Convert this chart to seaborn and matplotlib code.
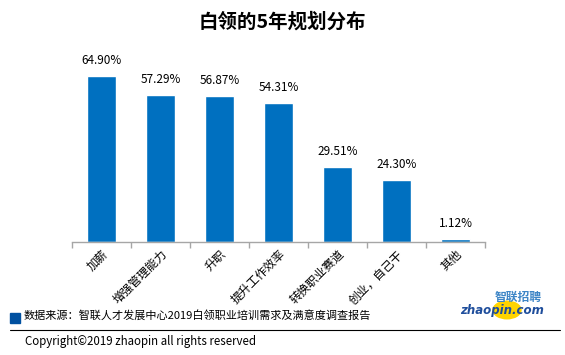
import matplotlib
matplotlib.use("Agg")
import matplotlib.pyplot as plt
from matplotlib.patches import Rectangle, Circle
import seaborn as sns
import pandas as pd

# 数据
categories = ["加薪", "增强管理能力", "升职", "提升工作效率", "转换职业赛道", "创业，自己干", "其他"]
values = [64.90, 57.29, 56.87, 54.31, 29.51, 24.30, 1.12]

title = "白领的5年规划分布"
source_text = "数据来源：智联人才发展中心2019白领职业培训需求及满意度调查报告"
copyright_text = "Copyright©2019 zhaopin all rights reserved"

bar_color = "#0070C0"


def main():
    sns.set_theme(style="white")
    plt.rcParams['font.family'] = ['Noto Sans CJK SC', 'DejaVu Sans']

    df = pd.DataFrame({"cat": categories, "val": values})

    fig = plt.figure(figsize=(5.65, 3.55), dpi=100)
    ax = fig.add_axes([0.1274, 0.318, 0.731, 0.505])
    sns.barplot(data=df, x="cat", y="val", color=bar_color, width=0.5,
                saturation=1, ax=ax)

    ax.set_ylim(0, 70)
    ax.set_xlim(-0.5, len(categories) - 0.5)
    ax.set_xlabel("")
    ax.set_ylabel("")
    ax.set_yticks([])
    for s in ["top", "right", "left"]:
        ax.spines[s].set_visible(False)
    ax.spines["bottom"].set_color("#A6A6A6")
    ax.spines["bottom"].set_linewidth(1)

    # 分类之间的刻度
    ax.set_xticks([i - 0.5 for i in range(len(categories) + 1)], minor=True)
    ax.tick_params(axis="x", which="minor", length=4, color="#A6A6A6",
                   width=1, direction="out", bottom=True)
    ax.tick_params(axis="x", which="major", length=0, pad=4)
    ax.set_xticks(range(len(categories)))
    ax.set_xticklabels(categories, rotation=45, ha="right", va="top",
                       rotation_mode="anchor", fontsize=8.5, color="#000000")

    # 数值标签
    for i, v in enumerate(values):
        ax.text(i, v + 3.5, f"{v:.2f}%", ha="center", va="bottom",
                fontsize=8.5, color="#000000")

    fig.text(0.5, 1 - 22 / 355, title, ha="center", va="center", fontsize=14,
             fontweight="bold", color="#000000")

    # 底部来源
    fig.patches.append(Rectangle((10 / 565, 1 - 323 / 355), 10 / 565, 10 / 355,
                                 transform=fig.transFigure, color="#0050A0"))
    fig.text(24 / 565, 1 - 315 / 355, source_text, ha="left", va="center",
             fontsize=8, color="#000000")
    fig.add_artist(plt.Line2D([10 / 565, 560 / 565], [1 - 330 / 355, 1 - 330 / 355],
                              transform=fig.transFigure, color="#000000", lw=0.8))
    fig.text(25 / 565, 1 - 341 / 355, copyright_text, ha="left", va="center",
             fontsize=8.3, color="#000000")

    # 标志
    fig.patches.append(Circle((507 / 565, 1 - 310 / 355), 14 / 565,
                              transform=fig.transFigure, color="#FFD400", zorder=0))
    fig.text(518 / 565, 1 - 297 / 355, "智联招聘", ha="center", va="center",
             fontsize=8.5, fontweight="bold", color="#3D85C6")
    fig.text(502 / 565, 1 - 310.5 / 355, "zhaopin.com", ha="center", va="center",
             fontsize=8.5, fontweight="bold", style="italic", color="#1F4E9C",
             family=["DejaVu Sans"])

    fig.savefig("out.png", dpi=100)


if __name__ == '__main__':
    main()
